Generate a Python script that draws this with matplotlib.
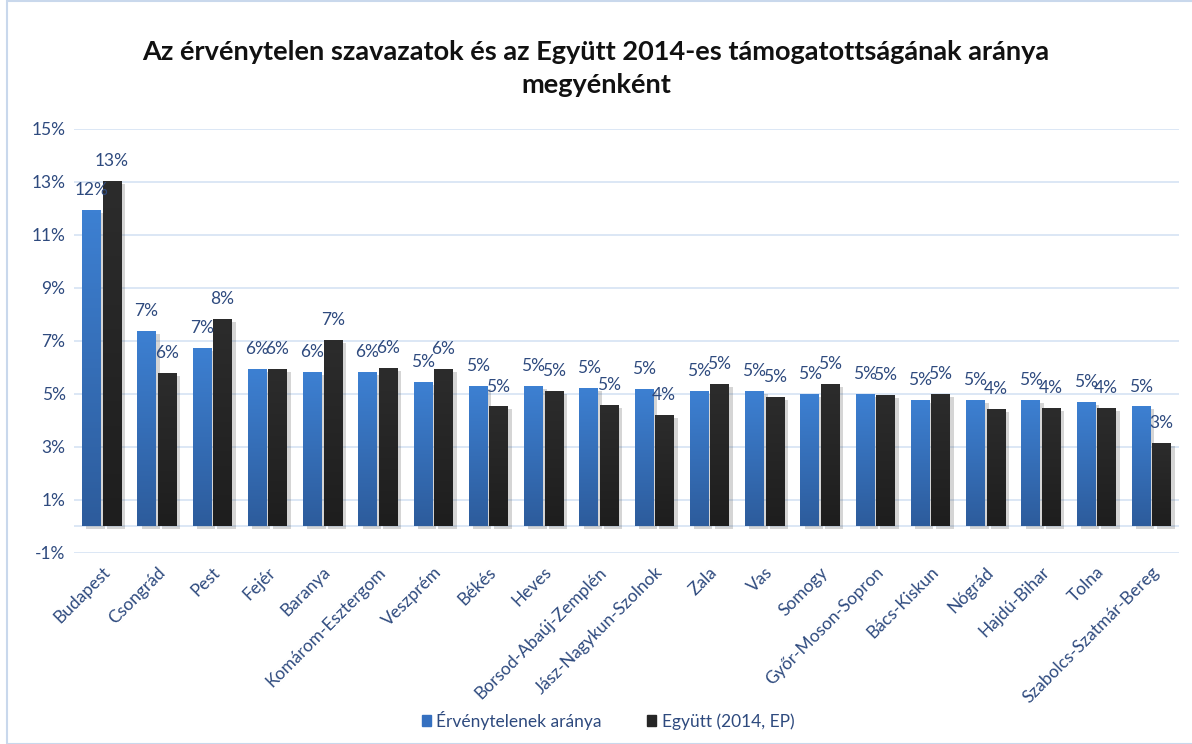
import numpy as np
import matplotlib
matplotlib.use("Agg")
import matplotlib.pyplot as plt
from matplotlib import patheffects as pe
from matplotlib.patches import Rectangle
from matplotlib.colors import LinearSegmentedColormap

plt.rcParams['font.family'] = ['Lato', 'DejaVu Sans']

categories = ["Budapest", "Csongrád", "Pest", "Fejér", "Baranya", "Komárom-Esztergom",
              "Veszprém", "Békés", "Heves", "Borsod-Abaúj-Zemplén", "Jász-Nagykun-Szolnok",
              "Zala", "Vas", "Somogy", "Győr-Moson-Sopron", "Bács-Kiskun", "Nógrád",
              "Hajdú-Bihar", "Tolna", "Szabolcs-Szatmár-Bereg"]
invalid = [11.92, 7.36, 6.72, 5.92, 5.81, 5.81, 5.43, 5.28, 5.28, 5.21, 5.17,
           5.09, 5.09, 4.98, 4.98, 4.75, 4.75, 4.75, 4.68, 4.52]
egyutt = [13.02, 5.77, 7.81, 5.92, 7.02, 5.96, 5.92, 4.52, 5.09, 4.57, 4.19,
          5.36, 4.87, 5.36, 4.94, 4.98, 4.42, 4.45, 4.45, 3.13]
series_names = ["Érvénytelenek aránya", "Együtt (2014, EP)"]
yticks = [-1, 1, 3, 5, 7, 9, 11, 13, 15]
title = "Az érvénytelen szavazatok és az Együtt 2014-es támogatottságának aránya\nmegyénként"

text_color = "#2E4A7E"
fig = plt.figure(figsize=(11.92, 7.44), dpi=100)
ax = fig.add_axes([0.062, 0.257, 0.927, 0.57])

x = np.arange(len(categories))
w = 0.33
off = 0.185
shadow = [pe.SimplePatchShadow(offset=(3, -2), alpha=0.22, shadow_rgbFace="#444444"), pe.Normal()]

grad = np.linspace(0, 1, 100).reshape(-1, 1)
bcmap = LinearSegmentedColormap.from_list("b", ["#2D5C9C", "#3D80D2"])
kcmap = LinearSegmentedColormap.from_list("k", ["#1E1E1E", "#2C2C2C"])

b1 = ax.bar(x - off, invalid, w, color="#3570C0", zorder=2, path_effects=shadow)
b2 = ax.bar(x + off, egyutt, w, color="#262626", zorder=2, path_effects=shadow)

for bars, cm in ((b1, bcmap), (b2, kcmap)):
    for r in bars:
        x0, y0 = r.get_x(), r.get_y()
        im = ax.imshow(grad, cmap=cm, origin="lower", aspect="auto",
                       extent=(x0, x0 + r.get_width(), y0, y0 + r.get_height()), zorder=3)
        im.set_clip_path(r)

for xs, vals in ((x - off, invalid), (x + off, egyutt)):
    for xi, v in zip(xs, vals):
        ax.text(xi, v + 0.45, f"{round(v):.0f}%", ha="center", va="bottom",
                fontsize=12.5, color=text_color, zorder=4)

ax.set_xlim(-0.5, len(categories) - 0.5)
ax.set_ylim(-1, 15)
ax.set_yticks(yticks)
ax.set_yticklabels([f"{t}%" for t in yticks], fontsize=12.5, color=text_color)
ax.yaxis.grid(True, color="#D6E3F3", linewidth=1.2, zorder=0)
ax.axhline(0, color="#D6E3F3", linewidth=1.2, zorder=1)
ax.set_xticks(x)
ax.set_xticklabels(categories, rotation=45, ha="right", rotation_mode="anchor",
                   fontsize=12.5, color=text_color)
ax.tick_params(axis="both", length=0, pad=6)
ax.tick_params(axis="x", pad=8)
for s in ax.spines.values():
    s.set_visible(False)

fig.text(0.5, 0.908, title, ha="center", va="center", fontsize=19.5,
         fontweight="bold", color="#111111", linespacing=1.45)

handles = [Rectangle((0, 0), 1, 1, color="#3570C0"), Rectangle((0, 0), 1, 1, color="#262626")]
leg = fig.legend(handles, series_names, loc="center", bbox_to_anchor=(0.51, 0.032), ncol=2,
                 frameon=False, fontsize=12.5, handlelength=0.55, handleheight=0.6,
                 handletextpad=0.3, columnspacing=2.6)
for t in leg.get_texts():
    t.set_color(text_color)

fig.patches.append(Rectangle((0.006, 0.0), 1.2, 0.998, transform=fig.transFigure,
                             fill=False, edgecolor="#C9D8EC", linewidth=1.5))

fig.savefig("out.png", dpi=100, facecolor="white")
